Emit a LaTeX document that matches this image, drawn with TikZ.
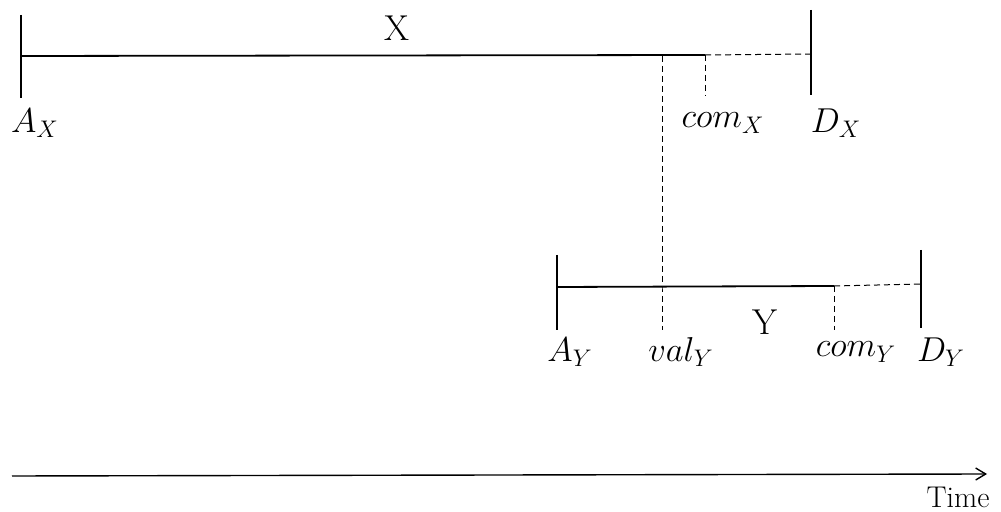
\documentclass[tikz,border=0pt]{standalone}
\usetikzlibrary{arrows.meta}
\begin{document}
\begin{tikzpicture}[x=0.5pt,y=-0.5pt,
  bar/.style={line width=0.9pt},
  dsh/.style={line width=0.5pt,dash pattern=on 3pt off 2pt},
  lbl/.style={inner sep=0pt,font=\fontsize{17}{20}\selectfont},
  rm/.style={inner sep=0pt,font=\fontsize{18}{21}\selectfont}]
\useasboundingbox (0,0) rectangle (1001,512);
% X interval
\coordinate (axt) at (21,15); \coordinate (axb) at (21,98);
\coordinate (ax) at (21,56);
\coordinate (vx) at (662,56);
\coordinate (cx) at (705,55);
\coordinate (dx) at (811,54);
\coordinate (dxt) at (811,10); \coordinate (dxb) at (811,95);
\coordinate (cxb) at (705,96);
\draw[bar] (axt) -- (axb);
\draw[bar] (ax) -- (cx);
\draw[dsh] (cx) -- (dx);
\draw[bar] (dxt) -- (dxb);
\draw[dsh] (cx) -- (cxb);
% Y interval
\coordinate (ayt) at (557,255); \coordinate (ayb) at (557,330);
\coordinate (ay) at (557,287);
\coordinate (vy) at (662,287);
\coordinate (vyb) at (662,330);
\coordinate (cy) at (834,286);
\coordinate (cyb) at (834,330);
\coordinate (dy) at (921,284);
\coordinate (dyt) at (921,250); \coordinate (dyb) at (921,328);
\draw[bar] (ayt) -- (ayb);
\draw[bar] (ay) -- (cy);
\draw[dsh] (cy) -- (dy);
\draw[bar] (dyt) -- (dyb);
\draw[dsh] (vx) -- (vy) -- (vyb);
\draw[dsh] (cy) -- (cyb);
% labels
\node[rm] (X) at (397,28) {X};
\node[lbl] (AX) at (35,123) {$A_X$};
\node[lbl] (comX) at (723,123) {$com_X$};
\node[lbl] (DX) at (836,123) {$D_X$};
\node[rm] (Y) at (765,322) {Y};
\node[lbl] (AY) at (570,352) {$A_Y$};
\node[lbl] (valY) at (681,352) {$val_Y$};
\node[lbl] (comY) at (856,352) {$com_Y$};
\node[lbl] (DY) at (941,352) {$D_Y$};
% time axis
\coordinate (t0) at (12,476);
\coordinate (t1) at (987,474);
\draw[line width=0.7pt,-{Straight Barb[length=5pt,width=6pt]}] (t0) -- (t1);
\node[inner sep=0pt,font=\fontsize{15}{17}\selectfont] (time) at (958,497) {Time};
\end{tikzpicture}
\end{document}
